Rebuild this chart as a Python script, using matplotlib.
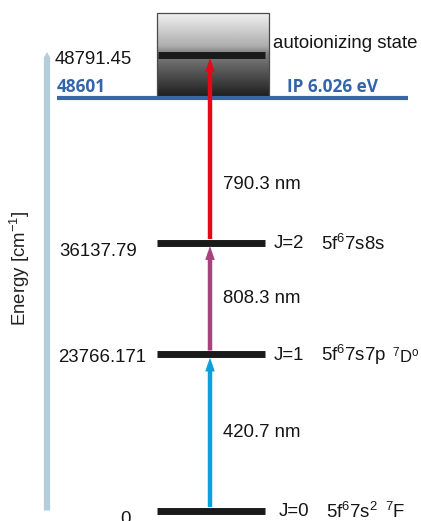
import numpy as np
import matplotlib
matplotlib.use("Agg")
import matplotlib.pyplot as plt
from matplotlib.patches import Rectangle

plt.rcParams["font.family"] = ["Liberation Sans", "DejaVu Sans"]
plt.rcParams["mathtext.fontset"] = "custom"
plt.rcParams["mathtext.rm"] = "Liberation Sans"
plt.rcParams["mathtext.it"] = "Liberation Sans:italic"
plt.rcParams["mathtext.bf"] = "Liberation Sans:bold"

# ---- data -------------------------------------------------------------
level_energies = [0.0, 23766.171, 36137.79]
level_energy_labels = ["0", "23766.171", "36137.79"]
level_j_labels = ["J=0", "J=1", "J=2"]
level_configs = [r"5f$^{6}$7s$^{2}$", r"5f$^{6}$7s7p", r"5f$^{6}$7s8s"]
level_terms = [r"$^{7}$F", r"$^{7}$D$^{\mathrm{o}}$", ""]

ionization_energy = 48601.0
ionization_label = "48601"
ionization_ev_label = "IP 6.026 eV"

autoionizing_energy = 48791.45
autoionizing_label = "48791.45"
autoionizing_name = "autoionizing state"

step_lower = [0.0, 23766.171, 36137.79]
step_upper = [23766.171, 36137.79, 48791.45]
step_wavelengths = ["420.7 nm", "808.3 nm", "790.3 nm"]
step_colors = ["#0b9fe0", "#a8427f", "#e30a17"]

# ---- schematic (non-linear) energy axis ------------------------------
# energies are placed on a piecewise-linear height scale so that the
# widely spaced lower levels and the close-lying upper levels fit together
anchor_E = np.array([-1000.0, 0.0, 23766.171, 36137.79, 48601.0, 48791.45, 49100.0])
anchor_H = np.array([0.0, 10.5, 167.0, 278.5, 423.5, 466.5, 521.0])


def fwd(e):
    return np.interp(e, anchor_E, anchor_H)


def inv(h):
    return np.interp(h, anchor_H, anchor_E)


fig = plt.figure(figsize=(4.21, 5.21), dpi=100)
ax = fig.add_axes([0, 0, 1, 1])
ax.set_yscale("function", functions=(fwd, inv))
ax.set_xlim(0, 421)
ax.set_ylim(anchor_E[0], anchor_E[-1])
ax.axis("off")

PT = 0.72  # points per pixel
bar_x0, bar_x1 = 157, 265
arrow_x = 210
txt_size = 13.4
ink = "#151515"

# energy axis arrow (filled shape with a short pointed tip)
ax.annotate("", xy=(47, inv(fwd(autoionizing_energy) + 2.5)), xytext=(47, 0.0),
            arrowprops=dict(arrowstyle="simple,head_length=0.45,head_width=0.5,tail_width=0.45",
                            facecolor="#b5cdd8", edgecolor="none", lw=0,
                            shrinkA=0, shrinkB=0, mutation_scale=10))
ax.text(20, inv(521 - 268), r"Energy [cm$^{-1}$]", rotation=90,
        ha="center", va="center", fontsize=txt_size, color="#222222")

# autoionizing region box with vertical gray gradient
box_top = inv(521 - 13)
stops_f = [0.0, 0.45, 0.55, 1.0]
stops_v = [0.95, 0.68, 0.50, 0.12]
grad = np.interp(np.linspace(0, 1, 256), stops_f, stops_v)[:, None]
ax.imshow(np.repeat(grad, 2, axis=1), cmap="gray", vmin=0, vmax=1,
          extent=(157, 269, ionization_energy, box_top), aspect="auto",
          origin="upper", zorder=1, interpolation="bilinear")
ax.add_patch(Rectangle((157, ionization_energy), 112, box_top - ionization_energy,
                       fill=False, edgecolor="#4a4a4a", lw=0.9, zorder=2))
ax.set_xlim(0, 421)
ax.set_ylim(anchor_E[0], anchor_E[-1])

# autoionizing level
ax.hlines(autoionizing_energy, 158, 265, colors="#1a1a1a", lw=5.0,
          zorder=3)
ax.annotate(autoionizing_name, xy=(273, autoionizing_energy),
            xytext=(0, 11.5 * PT), textcoords="offset points",
            ha="left", va="center", fontsize=txt_size, color=ink)
ax.annotate(autoionizing_label, xy=(55, autoionizing_energy),
            xytext=(0, -5.5 * PT), textcoords="offset points",
            ha="left", va="center", fontsize=txt_size, color=ink)

# ionization potential
ip_font = dict(fontsize=12.4, fontweight="bold", color="#3465a8",
               family=["Open Sans", "DejaVu Sans"])
ax.hlines(ionization_energy, 57, 408, colors="#3a66a8", lw=3.0, zorder=4)
ax.annotate(ionization_label, xy=(57, ionization_energy),
            xytext=(0, 11 * PT), textcoords="offset points",
            ha="left", va="center", **ip_font)
ax.annotate(ionization_ev_label, xy=(287, ionization_energy),
            xytext=(0, 11 * PT), textcoords="offset points",
            ha="left", va="center", **ip_font)

# bound levels
num_x = [120, 58, 59]
num_dy = [-8.5, -4.0, -9.5]
jx = [279, 274, 274]
cfg_x = [326, 321, 321]
term_x = [385, 392, 0]
term_size = [txt_size, 12.0, txt_size]
for i, e in enumerate(level_energies):
    ax.hlines(e, bar_x0, bar_x1, colors="#1a1a1a", lw=5.0, zorder=3)
    ax.annotate(level_energy_labels[i], xy=(num_x[i], e),
                xytext=(0, num_dy[i] * PT), textcoords="offset points",
                ha="left", va="center", fontsize=txt_size, color=ink)
    ax.annotate(level_j_labels[i], xy=(jx[i], e), xytext=(0, -1 * PT),
                textcoords="offset points", ha="left", va="center",
                fontsize=txt_size, color=ink)
    ax.annotate(level_configs[i], xy=(cfg_x[i], e), xytext=(0, -1 * PT),
                textcoords="offset points", ha="left", va="center",
                fontsize=txt_size, color=ink)
    if level_terms[i]:
        ax.annotate(level_terms[i], xy=(term_x[i], e), xytext=(0, -1 * PT),
                    textcoords="offset points", ha="left", va="center",
                    fontsize=term_size[i], color=ink)

# excitation steps
label_frac = [0.5, 0.5, 0.31]
for lo, hi, wl, c, f in zip(step_lower, step_upper, step_wavelengths,
                            step_colors, label_frac):
    y0 = inv(fwd(lo) + 3.5)
    y1 = inv(fwd(hi) - 3.5)
    ax.annotate("", xy=(arrow_x, y1), xytext=(arrow_x, y0),
                arrowprops=dict(arrowstyle="-|>,head_length=0.35,head_width=0.12",
                                color=c, lw=3.2, shrinkA=0, shrinkB=0,
                                mutation_scale=10, capstyle="butt",
                                joinstyle="miter"), zorder=5)
    ylab = inv(fwd(lo) + f * (fwd(hi) - fwd(lo)))
    ax.text(223, ylab, wl, ha="left", va="center", fontsize=txt_size,
            color=ink)

fig.savefig("out.png", dpi=100)
